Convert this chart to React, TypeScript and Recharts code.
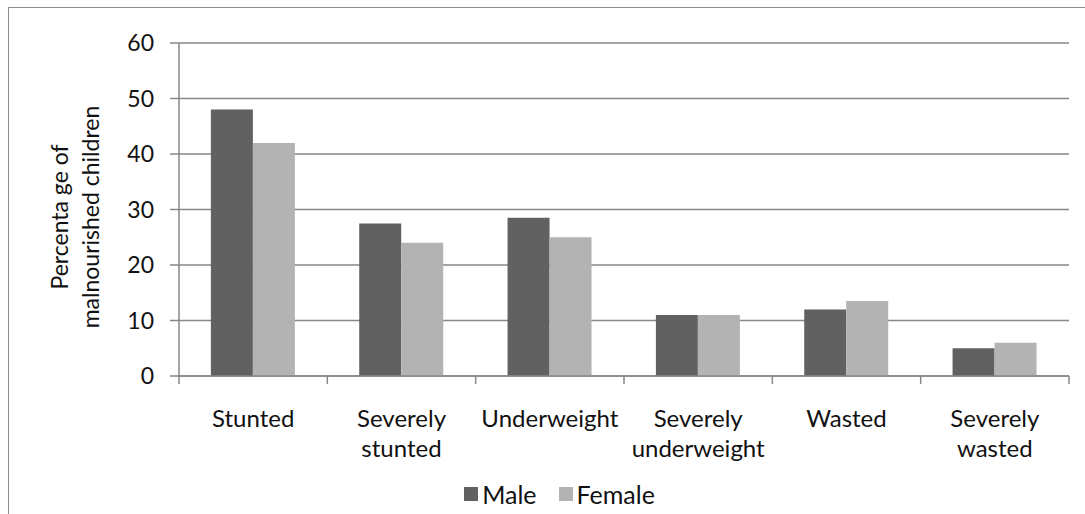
import React from "react";
import { BarChart, Bar, XAxis, YAxis, CartesianGrid, Legend } from "recharts";

// malnutrition indicators by sex (%)
const categories = ["Stunted", "Severely stunted", "Underweight", "Severely underweight", "Wasted", "Severely wasted"];
const maleValues = [48, 27.5, 28.5, 11, 12, 5];
const femaleValues = [42, 24, 25, 11, 13.5, 6];
const yTicks = [0, 10, 20, 30, 40, 50, 60];
const series = [
    { key: "male", name: "Male", color: "#616161" },
    { key: "female", name: "Female", color: "#b3b3b3" },
];

const data = categories.map((name, i) => ({ name, male: maleValues[i], female: femaleValues[i] }));

const W = 1085;
const H = 514;
const MARGIN = { top: 43, right: 16, left: 110, bottom: 8 };
const Y_AXIS_W = 69;
const PLOT_W = W - MARGIN.left - MARGIN.right - Y_AXIS_W;
const FONT = "Lato, 'Open Sans', sans-serif";
const AXIS_GRAY = "#878787";

const CategoryTick = (props: any) => {
    const { x, y, payload, index } = props;
    const band = PLOT_W / categories.length;
    const words = String(payload.value).split(" ");
    return (
        <g>
            <line x1={x - band / 2} x2={x - band / 2} y1={y} y2={y + 8} stroke={AXIS_GRAY} strokeWidth={1.5} />
            {index === categories.length - 1 && (
                <line x1={x + band / 2} x2={x + band / 2} y1={y} y2={y + 8} stroke={AXIS_GRAY} strokeWidth={1.5} />
            )}
            {words.map((w, i) => (
                <text key={i} x={x} y={y + 51 + i * 30} textAnchor="middle" fontSize={24} fontFamily={FONT} fill="#111">
                    {w}
                </text>
            ))}
        </g>
    );
};

const YLabel = () => {
    const cy = 217;
    return (
        <g fontFamily={FONT} fontSize={23} fill="#111">
            <text x={68} y={cy} textAnchor="middle" transform={`rotate(-90, 68, ${cy})`}>Percenta ge of</text>
            <text x={99} y={cy} textAnchor="middle" transform={`rotate(-90, 99, ${cy})`}>malnourished children</text>
        </g>
    );
};

const LegendContent = () => (
    <div style={{ height: 24, display: "flex", justifyContent: "center", alignItems: "center", gap: 22, fontFamily: FONT, fontSize: 25, color: "#111", paddingRight: 60 }}>
        {series.map((s) => (
            <span key={s.key} style={{ display: "flex", alignItems: "center", gap: 4 }}>
                <span style={{ width: 14, height: 14, background: s.color, display: "inline-block" }} />
                {s.name}
            </span>
        ))}
    </div>
);

export default function App() {
    return (
        <div style={{ position: "absolute", left: 0, top: 0, width: W, height: H, background: "#fff" }}>
            {/* chart frame, runs off the right and bottom edges */}
            <div style={{ position: "absolute", left: 8, top: 7, width: W + 20, height: H + 20, border: "1.5px solid #8c8c8c", boxSizing: "border-box" }} />
            <BarChart width={W} height={H} data={data} margin={MARGIN} barCategoryGap="21.5%" barGap={0}>
                <CartesianGrid vertical={false} stroke={AXIS_GRAY} strokeWidth={1.5} />
                <XAxis
                    dataKey="name"
                    interval={0}
                    height={106}
                    tickLine={false}
                    tickSize={0}
                    tickMargin={0}
                    stroke={AXIS_GRAY}
                    strokeWidth={1.5}
                    tick={<CategoryTick />}
                />
                <YAxis
                    width={Y_AXIS_W}
                    domain={[0, 60]}
                    ticks={yTicks}
                    interval={0}
                    tickSize={9}
                    tickMargin={16}
                    stroke={AXIS_GRAY}
                    strokeWidth={1.5}
                    tick={{ fontSize: 23, fontFamily: FONT, fill: "#111" }}
                    label={{ content: () => <YLabel /> }}
                />
                <Legend verticalAlign="bottom" content={<LegendContent />} />
                {series.map((s) => (
                    <Bar key={s.key} dataKey={s.key} name={s.name} fill={s.color} isAnimationActive={false} />
                ))}
            </BarChart>
        </div>
    );
}
